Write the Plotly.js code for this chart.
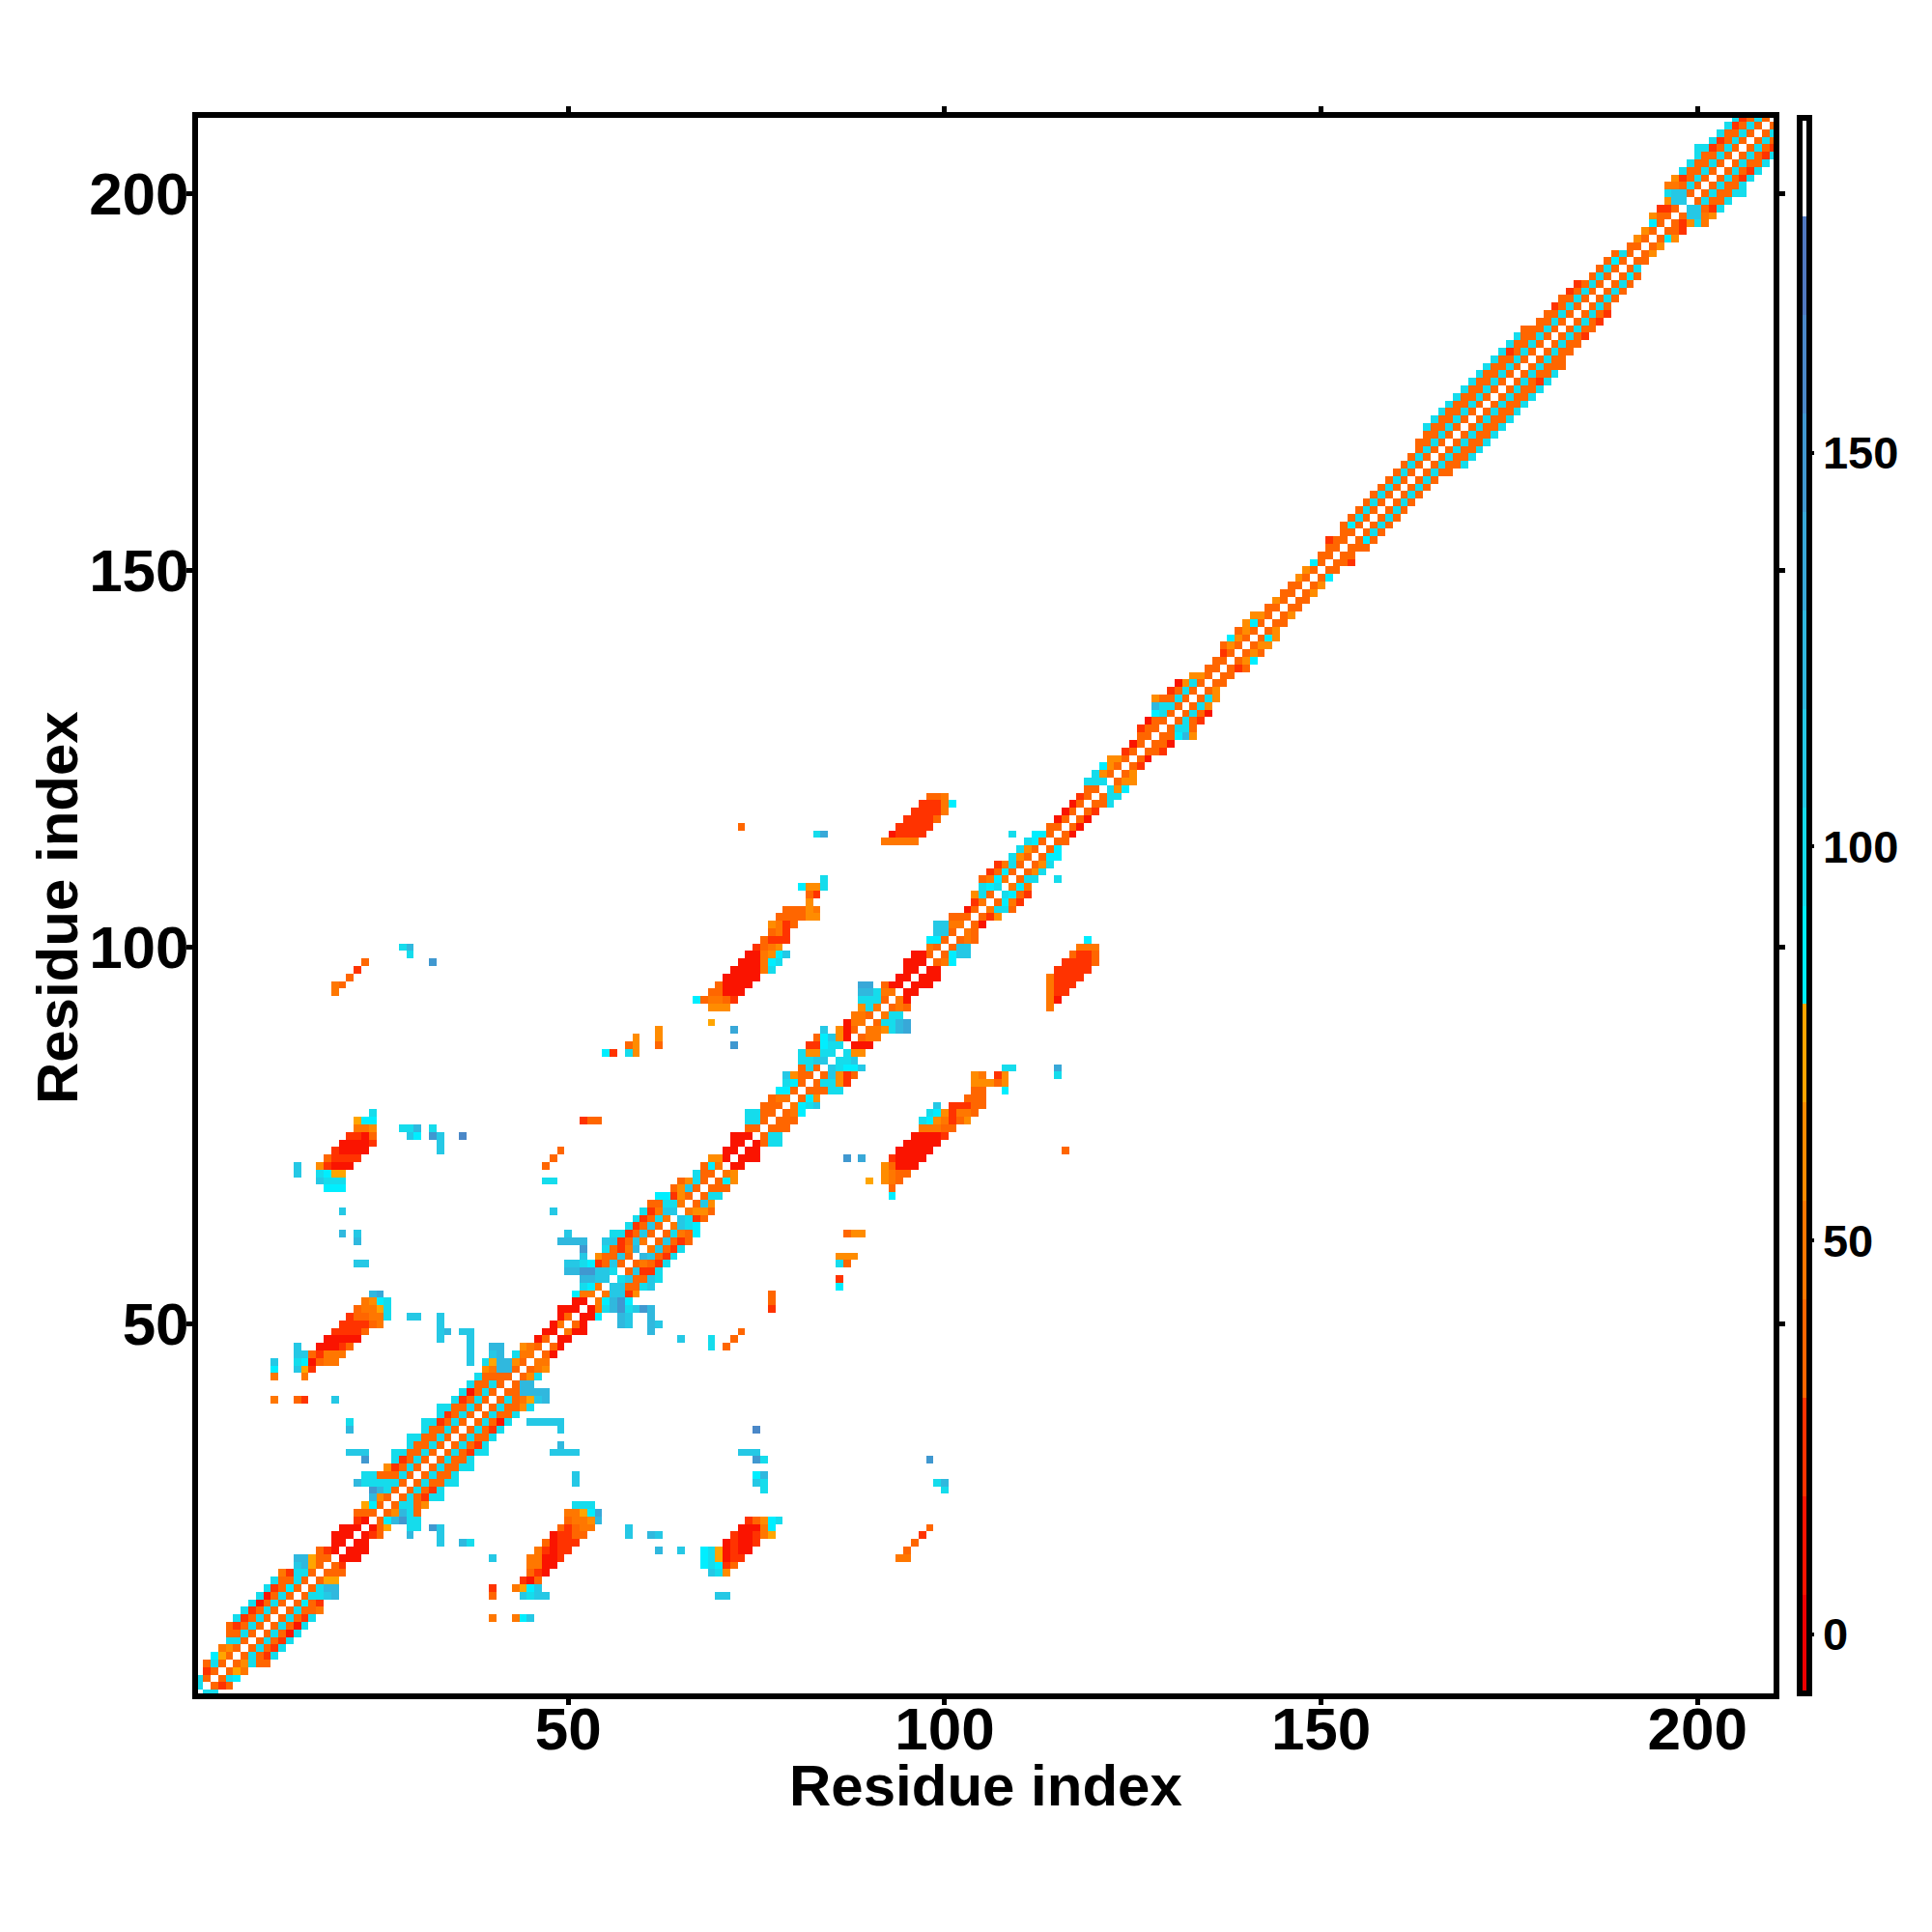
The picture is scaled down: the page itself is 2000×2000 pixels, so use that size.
<!DOCTYPE html>
<html><head><meta charset="utf-8">
<script src="https://cdn.plot.ly/plotly-3.0.1.min.js"></script>
<style>html,body{margin:0;padding:0;background:#fff}</style></head>
<body><div id="chart" style="width:2000px;height:2000px"></div>
<script>
const bandRows = [
"2 1 8","3 1 83","4 2 23","5 2 383","6 3 763","7 4 453","8 5 883","9 5 3383","10 5 32383","11 6 82383",
"12 7 82383","13 8 81383","14 9 81383","15 10 82373","16 11 83383","17 12 42883","18 14 9a63","19 14 aa633","20 17 321","21 19 11",
"22 19 111","23 20 111","24 22 21","25 22 333","26 23 673","27 24 a53","28 24 ca83","29 22 a888883","30 23 8833383","31 26 52383",
"32 27 82383","33 27 883383","34 29 83383","35 29 883383","36 31 83383","37 31 882383","38 33 82383","39 33 883383","40 35 82383","41 36 81383",
"42 37 83383","43 38 83333","44 39 54aa3","45 39 86aa53","46 40 9a.844","47 40 aa..543","48 46 13","49 47 11","50 48 14","51 49 13",
"52 49 111","53 51 11","54 51 744","55 52 874","56 52 aa99","57 50 aacc998","58 50 99872393","59 52 9.53393","60 52 c..8324a","61 49 aaaa..992394",
"62 50 9.....882393","63 58 82393","64 59 82384","65 60 82499","66 61 33884","67 62 77253","68 64 3593","69 65 3583","70 67 833","71 68 374",
"72 69 551","73 71 11","74 72 11","75 72 111","76 74 33","77 74 883","78 74 8833","79 76 333","80 77 344","81 78 773",
"82 79 873","83 79 9533","84 81 383","85 81 8899","86 81 85588","87 82 22788","88 83 37951","89 84 9.513","90 87 144","91 88 443",
"92 89 584","93 89 8883","94 89 aa844","95 89 bb.311","96 94 11","97 95 11","98 95 111","99 96 113","100 98 43","101 98 773",
"102 99 993","103 99 9944","104 101 333","105 103 13","106 104 24","107 104 583","108 105 878","109 105 3474","110 106 2373","111 107 2483",
"112 109 853","113 110 853","114 111 873","115 109 8..773","116 114 33","117 115 13","118 116 13","119 117 13","120 118 23","121 119 33",
"122 119 888","123 120 853","124 121 753","125 122 553","126 124 23","127 125 13","128 126 33","129 126 233","130 127 133","131 128 783",
"132 128 a883","133 128 53383","134 130 2383","135 131 1583","136 133 553","137 135 33","138 136 33","139 137 23","140 137 353","141 138 753",
"142 139 353","143 140 573","144 141 553","145 143 33","146 144 53","147 145 33","148 146 33","149 147 53","150 148 53","151 149 73",
"152 150 33","153 151 33","154 151 233","155 153 33","156 153 373","157 154 383","158 155 383","159 156 383","160 157 383","161 158 383",
"162 159 383","163 160 383","164 161 383","165 162 383","166 163 383","167 163 3383","168 164 3383","169 164 83383","170 165 83383","171 166 83383",
"172 167 83383","173 168 83383","174 169 83383","175 170 83383","176 171 83383","177 172 83383","178 173 83383","179 174 82383","180 175 83383","181 176 83383",
"182 177 33383","183 179 3383","184 180 3383","185 181 2383","186 182 3383","187 183 2383","188 184 2383","189 186 383","190 187 383","191 188 373",
"192 189 383","193 191 33","194 192 53","195 193 53","196 194 73","197 194 533","198 195 223","199 196 599","200 196 8993","201 196 44383",
"202 197 52383","203 198 83383","204 199 83383","205 200 83383","206 200 882383","207 202 82383","208 203 83383","209 204 82383","210 205 82383"
];
const islandRows = [
"100 28 8a","99 29 8","98 23 3","98 32 c","97 22 2","96 21 3","95 19 43","94 19 4",
"86 55 72.85","87 58 35","87 62 3","87 72 c","88 59 5","88 62 5","89 62 5","89 72 b","90 69 6",
"77 52 233",
"78 24 8","77 22 677","76 22 445","76 28 88a","76 32 8","75 21 2213","75 29 97","75 32 c9","75 36 d",
"74 20 11112","74 33 9","73 19 21111","73 33 9","73 49 3","72 18 32222","72 48 3","71 14 9","71 17 52111","71 47 3",
"70 14 9","70 17 8766","69 17 9888","69 47 88","68 18 777","65 20 9","65 48 9","62 20 a","62 22 9","61 22 a","58 22 99",
"54 24 ab","53 23 4578","52 22 34468","51 21 233448","51 29 99","51 33 9","50 20 222234","50 33 9","49 19 22223","49 33 9a","49 36 99",
"48 18 11111","48 33 9","48 37 9","47 14 9","47 17 11123","47 37 9","46 14 9932444","46 37 9","45 11 9","45 14 871344","45 37 9",
"44 11 7","44 14 962","43 11 4","43 15 4","40 11 4","40 14 32","40 19 9","37 21 8","36 21 a","33 21 999","32 23 c",
"120 98 334","119 97 2224","119 101 7","118 96 22224","117 95 22223","116 94 22222","116 73 3","115 93 12222","115 83 8b","114 92 44444",
"109 84 8","108 81 7558","107 82 32","106 82 5","105 79 33354","104 78 333355","103 77 5423","102 77 342","101 76 3222","100 75 2345",
"99 74 1145","99 78 79","98 73 11147","98 78 8","97 72 11118","97 76 48","96 71 11111","95 70 31111","94 69 33111","93 67 734432","92 69 555"
];
const levelValues = [-1,11,24,36,49,61,74,86,99,111,124,136,149,161,174];
const levelColors = ["#ee0000","#fa1400","#ff3300","#ff6600","#ff7700","#ff8c00","#ffa500","#00eeff","#15dcec","#25c8e5","#30b8de","#38a8d8","#4098d0","#4a88c8","#5078c0","#ffffff"];
const tickValues = [50,100,150,200];
const barTicks = [0,50,100,150];
const residueCount = 210;
const axisLabel = "Residue index";

const residues = Array.from({length:residueCount},(_,i)=>i+1);
const z = residues.map(()=>residues.map(()=>null));
for (const line of bandRows.concat(islandRows)) {
  const [y,x0,chars] = line.split(" ");
  [...chars].forEach((c,k)=>{
    if (c===".") return;
    const x = +x0 + k, v = levelValues[parseInt(c,16)];
    z[+y-1][x-1] = v; z[x-1][+y-1] = v;
  });
}
const n = levelColors.length, colorscale = [];
levelColors.forEach((c,i)=>{colorscale.push([i/n,c]);colorscale.push([(i+1)/n,c]);});
const fam = '"Liberation Sans", Arial, sans-serif';
const titleFont = {family:fam,size:60,color:"#000",weight:"bold"};
const axis = (extra)=>Object.assign({
  tickmode:"array", tickvals:tickValues, ticks:"outside", ticklen:6, tickwidth:5, tickcolor:"#000",
  showline:true, linecolor:"#000", linewidth:6, mirror:"ticks", showgrid:false, zeroline:false, automargin:false,
  tickfont:{family:fam,size:62,color:"#000",weight:"bold"}
},extra);
Plotly.newPlot("chart",[{
  type:"heatmap", x:residues, y:residues, z, zmin:-7.5, zmax:192.5, colorscale, hoverongaps:false,
  colorbar:{thickness:10, len:1, lenmode:"fraction", y:0.5, yanchor:"middle", x:1.0165, xanchor:"left", xpad:0, ypad:0,
    outlinewidth:6, outlinecolor:"#000", tickmode:"array", tickvals:barTicks, ticks:"outside", ticklen:2, tickwidth:4, tickcolor:"#000",
    tickfont:{family:fam,size:47,color:"#000",weight:"bold"}}
}],{
  width:2000, height:2000, autosize:false, paper_bgcolor:"#fff", plot_bgcolor:"#fff",
  margin:{l:205,r:164,t:122,b:247,pad:0},
  xaxis:axis({range:[0.83,210.1],ticklabelstandoff:-28}),
  yaxis:axis({range:[1.0,210.0],ticklabelstandoff:-15}),
  annotations:[
    {text:axisLabel,xref:"paper",yref:"paper",x:0.5,y:-0.0588,xanchor:"center",yanchor:"middle",showarrow:false,font:titleFont},
    {text:axisLabel,xref:"paper",yref:"paper",x:-0.0888,y:0.4985,xanchor:"center",yanchor:"middle",textangle:-90,showarrow:false,font:titleFont}
  ]
},{displayModeBar:false,staticPlot:true});
</script></body></html>
